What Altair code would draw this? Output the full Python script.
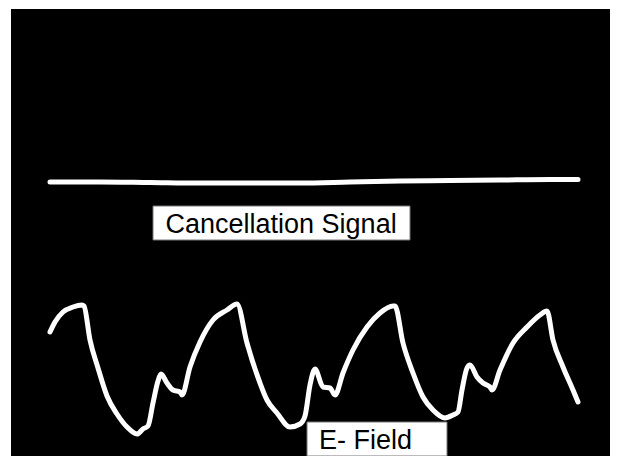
import altair as alt
import pandas as pd

# Oscilloscope trace: time (screen units) and amplitude (screen units)
efield_t = [50, 55, 63, 73, 82, 84,
            90, 98, 107, 117, 127, 137, 143, 148,
            153, 158, 161, 167, 173, 180, 182,
            190, 200, 213, 227, 237,
            247, 260, 267, 277, 290, 300, 305,
            310, 315, 323, 330, 335,
            343, 353, 367, 380, 393, 395,
            403, 413, 423, 433, 445, 453, 458,
            462, 467, 470, 477, 483, 490, 492,
            500, 513, 527, 540, 547,
            553, 563, 573, 578]
efield_y = [332, 322, 312, 307, 305, 306,
            340, 368, 396, 414, 427, 434, 429, 426,
            403, 381, 374, 383, 390, 392, 395,
            367, 342, 320, 310, 304,
            343, 383, 400, 413, 427, 424, 416,
            385, 369, 387, 388, 395,
            373, 350, 327, 313, 306, 306,
            343, 373, 397, 410, 418, 415, 412,
            390, 368, 365, 377, 383, 387, 390,
            370, 343, 327, 315, 311,
            340, 367, 390, 402]

cancel_t = [50, 100, 150, 200, 250, 300, 350, 400, 450, 500, 550, 578]
cancel_y = [182, 182, 182.5, 183, 183, 183, 182, 181, 180.5, 180, 179.5, 179.5]

labels = ["Cancellation Signal", "E- Field"]

TOP = 464
efield = pd.DataFrame({"t": efield_t, "amp": [TOP - v for v in efield_y]})
cancel = pd.DataFrame({"t": cancel_t, "amp": [TOP - v for v in cancel_y]})

# annotation boxes / text anchors (in the same data units)
boxes = pd.DataFrame({
    "x": [153, 307], "x2": [410, 447],
    "y": [TOP - 206, TOP - 422], "y2": [TOP - 240, TOP - 456],
})
texts = pd.DataFrame({
    "label": labels,
    "x": [165.5, 319],
    "y": [TOP - 233, TOP - 449],
})

xs = alt.Scale(domain=[11, 610], nice=False, zero=False)
ys = alt.Scale(domain=[8, 455], nice=False, zero=False)

box_layer = alt.Chart(boxes).mark_rect(
    fill="white", stroke="#777777", strokeWidth=1
).encode(
    x=alt.X("x:Q", scale=xs, axis=None),
    x2="x2:Q",
    y=alt.Y("y:Q", scale=ys, axis=None),
    y2="y2:Q",
)

text_layer = alt.Chart(texts).mark_text(
    align="left", baseline="alphabetic", font="Liberation Sans",
    fontSize=27, color="black"
).encode(
    x=alt.X("x:Q", scale=xs, axis=None),
    y=alt.Y("y:Q", scale=ys, axis=None),
    text="label:N",
)

cancel_layer = alt.Chart(cancel).mark_line(
    color="white", strokeWidth=5, strokeCap="round", strokeJoin="round",
    interpolate="monotone"
).encode(
    x=alt.X("t:Q", scale=xs, axis=None),
    y=alt.Y("amp:Q", scale=ys, axis=None),
)

efield_layer = alt.Chart(efield).mark_line(
    color="white", strokeWidth=5, strokeCap="round", strokeJoin="round",
    interpolate="monotone"
).encode(
    x=alt.X("t:Q", scale=xs, axis=None),
    y=alt.Y("amp:Q", scale=ys, axis=None),
    order="t:Q",
)

chart = alt.layer(cancel_layer, efield_layer, box_layer, text_layer).properties(
    width=599, height=447,
    padding={"left": 3, "top": 1, "right": 0, "bottom": 0},
    autosize=alt.AutoSizeParams(type="none"),
    background="white",
).configure_view(fill="black", strokeWidth=0)

chart.save("out.html", embed_options={"renderer": "svg", "actions": False})
